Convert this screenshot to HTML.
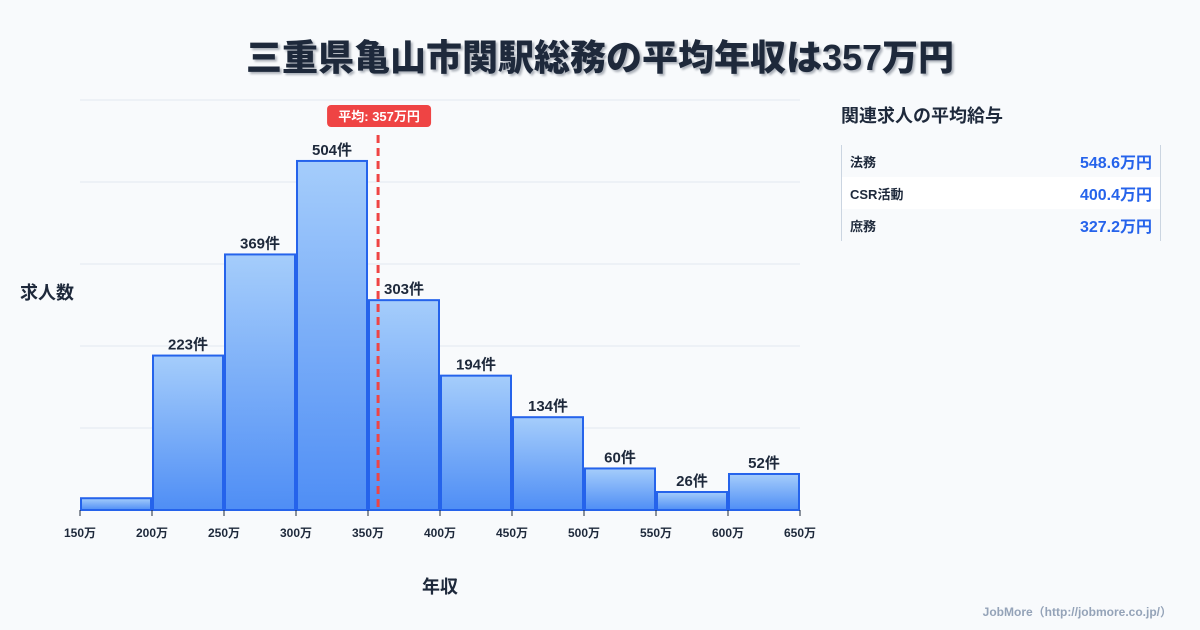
<!DOCTYPE html>
<html><head><meta charset="utf-8">
<style>
body{margin:0;width:1200px;height:630px;background:#f8fafc;font-family:"Liberation Sans","Noto Sans CJK JP",sans-serif;position:relative;overflow:hidden;color:#1e293b}
.title{position:absolute;top:29px;left:0;width:1200px;text-align:center;font-size:36px;font-weight:900;color:#1e293b;text-shadow:2px 2px 2px rgba(30,41,59,0.35)}
.side{position:absolute;left:841px;top:102px}
.side h2{margin:0;font-size:18px;font-weight:700;position:absolute;left:0;top:0;white-space:nowrap}
.tbl{position:absolute;left:841px;top:145px;width:318px;border-left:1px solid #cbd5e1;border-right:1px solid #cbd5e1}
.row{height:32px;display:flex;justify-content:space-between;align-items:center;padding:0 8px;font-size:13px;font-weight:700}
.row .v{color:#2563eb;font-size:16px}
.foot{position:absolute;right:28px;bottom:10px;font-size:12px;color:#94a3b8;font-weight:700}
</style></head><body>
<div class="title">三重県亀山市関駅総務の平均年収は357万円</div>
<svg id="chart" width="1200" height="630" style="position:absolute;left:0;top:0">
<defs><linearGradient id="g" x1="0" y1="0" x2="0" y2="1"><stop offset="0" stop-color="#a5cdfb"/><stop offset="1" stop-color="#4f8ef5"/></linearGradient></defs>
</svg>
<div class="side"><h2>関連求人の平均給与</h2></div>
<div class="tbl">
<div class="row"><span>法務</span><span class="v">548.6万円</span></div>
<div class="row" style="background:#fff"><span>CSR活動</span><span class="v">400.4万円</span></div>
<div class="row"><span>庶務</span><span class="v">327.2万円</span></div>
</div>
<div class="foot">JobMore（http://jobmore.co.jp/）</div>
<script>
const binStarts=[150,200,250,300,350,400,450,500,550,600];
const counts=[17,223,369,504,303,194,134,60,26,52];
const showLabel=[false,true,true,true,true,true,true,true,true,true];
const xTicks=[150,200,250,300,350,400,450,500,550,600,650];
const meanValue=357;
const binWidth=50;
const yMax=592;
const svg=document.getElementById('chart');
const NS='http://www.w3.org/2000/svg';
const X0=80,X1=800,Y0=510,Y1=100;
const x=v=>X0+(v-150)/500*(X1-X0);
const y=v=>Y0-v/yMax*(Y0-Y1);
function mk(t,a){const e=document.createElementNS(NS,t);for(const k in a)e.setAttribute(k,a[k]);svg.appendChild(e);return e;}
for(let i=0;i<=5;i++){const gy=Y0-i*(Y0-Y1)/5;const l=mk('line',{x1:X0,x2:X1,y1:gy,y2:gy,stroke:'#e2e8f0','stroke-width':1});

}
binStarts.forEach((b,i)=>{
 const x0=x(b)+1,x1=x(b+binWidth)-1,top=y(counts[i]);
 const r=mk('rect',{x:x0,y:top,width:x1-x0,height:Y0-top,fill:'url(#g)',stroke:'#2563eb','stroke-width':2});
 
 
 if(showLabel[i]){const t=mk('text',{x:(x0+x1)/2,y:top-6,'text-anchor':'middle','font-size':15,'font-weight':700,fill:'#1e293b'});t.textContent=counts[i]+'件';
 
 }
});
xTicks.forEach(v=>{mk('line',{x1:x(v),x2:x(v),y1:Y0,y2:Y0+6,stroke:'#1e293b','stroke-width':1});
 const t=mk('text',{x:x(v),y:537,'text-anchor':'middle','font-size':12,'font-weight':700,fill:'#1e293b'});t.textContent=v+'万';
 
 });
const mx=x(meanValue);
const ml=mk('line',{x1:mx,x2:mx,y1:135,y2:Y0,stroke:'#ef4444','stroke-width':3,'stroke-dasharray':'8,5'});


const mb=mk('rect',{x:mx-51,y:105,width:104,height:22,rx:4,fill:'#ef4444'});


const mt=mk('text',{x:mx+1,y:121,'text-anchor':'middle','font-size':13,'font-weight':700,fill:'#fff'});mt.textContent='平均: '+meanValue+'万円';


const yt=mk('text',{x:20,y:299,'font-size':18,'font-weight':700,fill:'#1e293b'});yt.textContent='求人数';


const xt=mk('text',{x:440,y:593,'text-anchor':'middle','font-size':18,'font-weight':700,fill:'#1e293b'});xt.textContent='年収';


</script>
</body></html>
